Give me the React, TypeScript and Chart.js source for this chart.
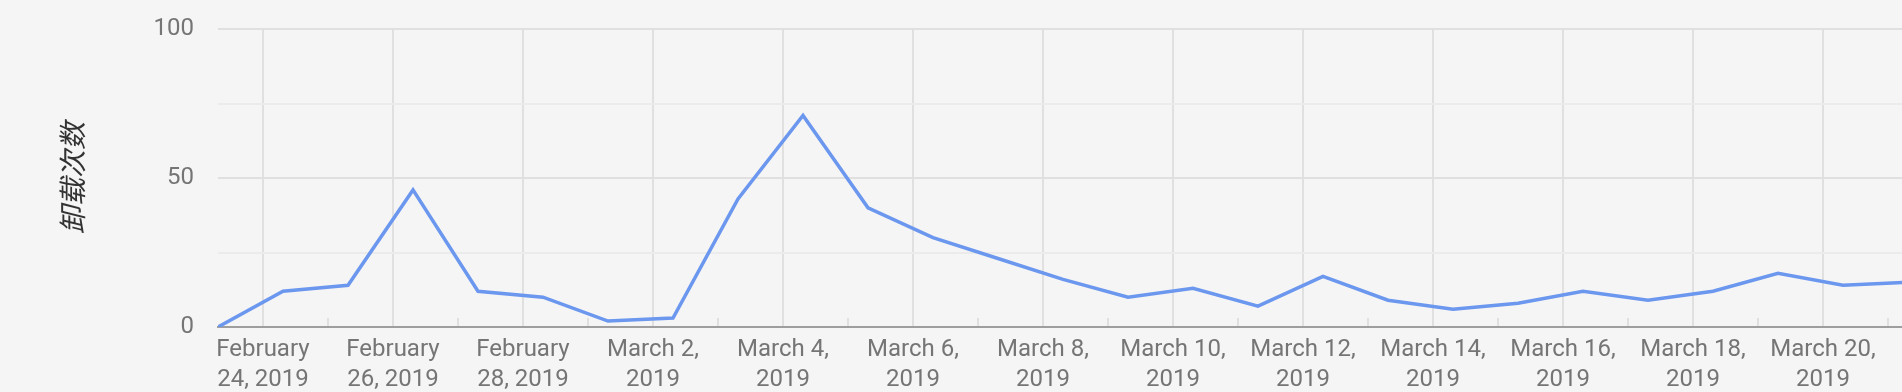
import React, { useEffect, useRef } from "react";
import { Chart, registerables } from "chart.js";

Chart.register(...registerables);

// ---- data ----
const dates = [
  "2019-02-23", "2019-02-24", "2019-02-25", "2019-02-26", "2019-02-27", "2019-02-28",
  "2019-03-01", "2019-03-02", "2019-03-03", "2019-03-04", "2019-03-05", "2019-03-06",
  "2019-03-07", "2019-03-08", "2019-03-09", "2019-03-10", "2019-03-11", "2019-03-12",
  "2019-03-13", "2019-03-14", "2019-03-15", "2019-03-16", "2019-03-17", "2019-03-18",
  "2019-03-19", "2019-03-20", "2019-03-21",
];
const uninstallCounts = [
  0, 12, 14, 46, 12, 10,
  2, 3, 43, 71, 40, 30,
  23, 16, 10, 13, 7, 17,
  9, 6, 8, 12, 9, 12,
  18, 14, 15,
];
const yTickValues = [0, 25, 50, 75, 100];
const yLabelValues = [0, 50, 100];
const yTitle = "卸载次数";
const sampleHour = 7.4; // time of day of each daily sample
const axisOriginDate = "2019-02-24"; // day 0 of the x scale
const axisEndDate = "2019-03-23";
const monthNames = [
  "January", "February", "March", "April", "May", "June",
  "July", "August", "September", "October", "November", "December",
];

const DAY = 86400000;
const toUTC = (s: string) => {
  const [y, m, d] = s.split("-").map(Number);
  return Date.UTC(y, m - 1, d);
};
const origin = toUTC(axisOriginDate);
const dayOf = (s: string) => (toUTC(s) - origin) / DAY;

const wrapLabel = (text: string, maxChars: number) => {
  const words = text.split(" ");
  const lines: string[] = [];
  let cur = "";
  for (const w of words) {
    const next = cur ? cur + " " + w : w;
    if (next.length > maxChars && cur) {
      lines.push(cur);
      cur = w;
    } else cur = next;
  }
  if (cur) lines.push(cur);
  return lines;
};

const formatDay = (day: number) => {
  const dt = new Date(origin + day * DAY);
  return `${monthNames[dt.getUTCMonth()]} ${dt.getUTCDate()}, ${dt.getUTCFullYear()}`;
};

const TEXT = "#757575";
const GRID = "#e0e0e0";
const GRID_MINOR = "#ebebeb";
const LINE = "#6b97ef";

export default function App() {
  const ref = useRef<HTMLCanvasElement | null>(null);

  useEffect(() => {
    if (!ref.current) return;
    const points = dates.map((d, i) => ({ x: dayOf(d) + sampleHour / 24, y: uninstallCounts[i] }));
    const minX = points[0].x;
    const maxX = dayOf(axisEndDate) + sampleHour / 24;

    const chart = new Chart(ref.current, {
      type: "line",
      data: {
        datasets: [
          {
            label: yTitle,
            data: points,
            borderColor: LINE,
            borderWidth: 3.5,
            pointRadius: 0,
            pointHoverRadius: 0,
            tension: 0,
            fill: false,
          },
        ],
      },
      options: {
        animation: false,
        responsive: false,
        maintainAspectRatio: false,
        layout: { padding: { left: 0, top: 29, right: 40, bottom: 0 } },
        plugins: { legend: { display: false }, tooltip: { enabled: false } },
        scales: {
          x: {
            type: "linear",
            min: minX,
            max: maxX,
            afterFit: (scale: any) => {
              scale.height = 65;
            },
            afterBuildTicks: (scale: any) => {
              const ticks = [];
              for (let d = Math.ceil(scale.min); d <= Math.floor(scale.max); d++) ticks.push({ value: d });
              scale.ticks = ticks;
            },
            border: { display: true, color: "#9e9e9e", width: 2 },
            grid: {
              color: (ctx: any) =>
                ctx.tick && Math.round(ctx.tick.value) % 2 === 0 ? GRID : "rgba(0,0,0,0)",
              lineWidth: 2,
              drawTicks: true,
              tickLength: -9,
              tickWidth: 2,
              tickColor: GRID,
            },
            ticks: {
              autoSkip: false,
              maxRotation: 0,
              minRotation: 0,
              padding: 17,
              color: TEXT,
              font: { family: "Roboto", size: 24, lineHeight: 1.25 },
              callback: (v: any) => {
                const d = Math.round(Number(v));
                if (d % 2 !== 0) return "";
                return wrapLabel(formatDay(d), 9);
              },
            },
          },
          y: {
            type: "linear",
            min: 0,
            max: 100,
            afterFit: (scale: any) => {
              scale.width = 218;
            },
            afterBuildTicks: (scale: any) => {
              scale.ticks = yTickValues.map((v) => ({ value: v }));
            },
            border: { display: false },
            grid: {
              color: (ctx: any) =>
                ctx.tick && ctx.tick.value % 50 === 0 ? GRID : GRID_MINOR,
              lineWidth: 2,
              drawTicks: true,
              tickLength: 24,
              tickColor: "rgba(0,0,0,0)",
            },
            ticks: {
              padding: 0,
              color: TEXT,
              font: { family: "Roboto", size: 24 },
              callback: (v: any) => (yLabelValues.includes(Number(v)) ? String(v) : ""),
            },
            title: {
              display: true,
              text: yTitle,
              color: "#333333",
              padding: { top: 56, bottom: 0 },
              font: { family: "'Noto Sans CJK SC'", size: 28, style: "italic" },
            },
          },
        },
      },
    });
    return () => chart.destroy();
  }, []);

  return (
    <div
      style={{
        position: "fixed",
        left: 0,
        top: 0,
        width: "1902px",
        height: "392px",
        overflow: "hidden",
        background: "#f5f5f5",
      }}
    >
      <canvas ref={ref} width={2078} height={392} style={{ display: "block", width: "2078px", height: "392px" }} />
    </div>
  );
}
